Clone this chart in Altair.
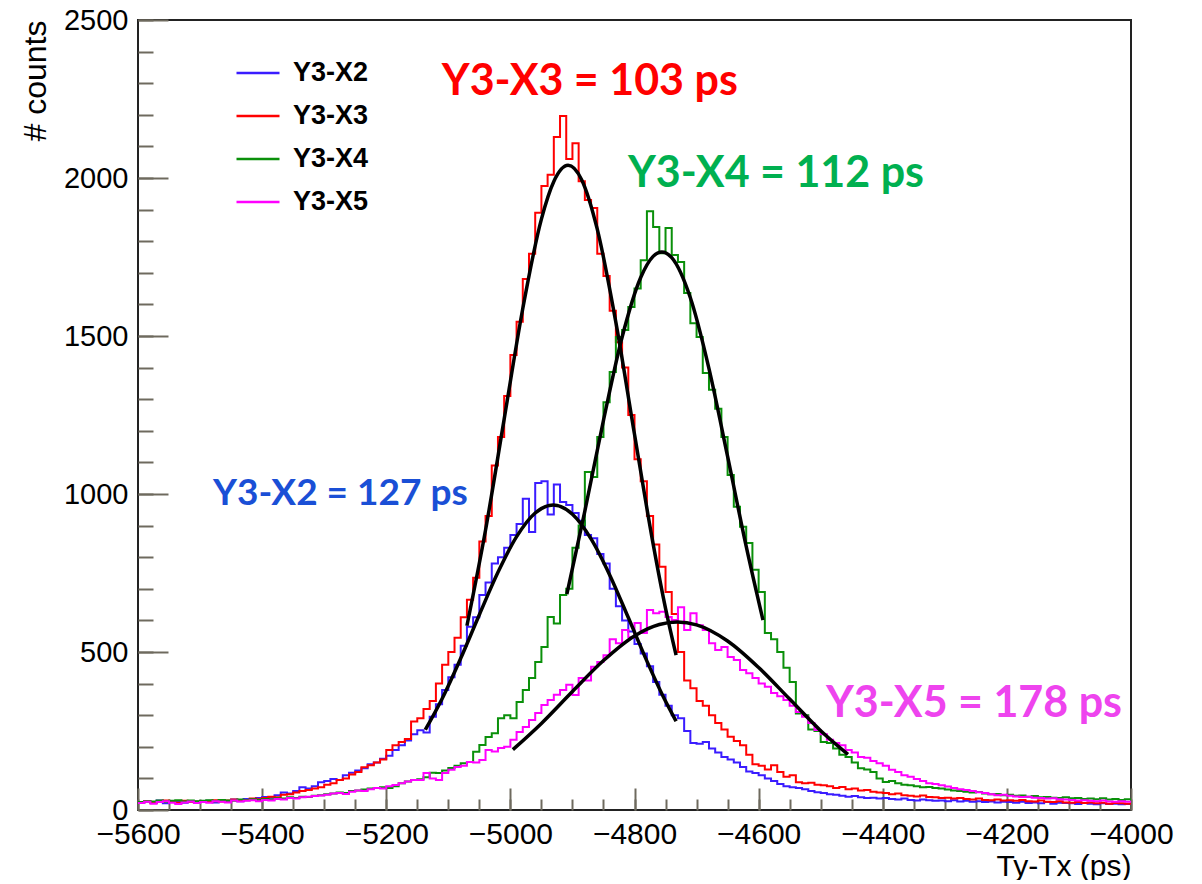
import altair as alt
import pandas as pd

# ---------------- data ----------------
SERIES = ["Y3-X2", "Y3-X3", "Y3-X4", "Y3-X5"]
COLORS = ["#3a1cff", "#ff0000", "#0a900a", "#ff00ff"]

BIN_START = -5600
BIN_END = -4000
BIN_WIDTH = 10

COUNTS_X2 = [
    22, 27, 24, 30, 21, 26, 28, 23, 27, 25,
    26, 29, 24, 31, 27, 33, 28, 35, 32, 38,
    41, 39, 47, 55, 52, 60, 72, 68, 75, 88,
    92, 98, 95, 110, 118, 125, 132, 145, 150, 162,
    172, 190, 205, 220, 240, 252, 245, 295, 335, 380,
    420, 460, 520, 580, 610, 680, 720, 780, 800, 830,
    870, 905, 985, 880, 1035, 1040, 935, 1030, 975, 965,
    940, 915, 870, 860, 810, 780, 700, 645, 600, 565,
    525, 495, 455, 405, 365, 330, 300, 290, 250, 212,
    210, 215, 195, 182, 168, 160, 150, 136, 122, 117,
    110, 100, 92, 82, 75, 72, 70, 66, 60, 56,
    54, 50, 48, 45, 42, 44, 40, 38, 39, 36,
    38, 35, 33, 36, 32, 30, 33, 31, 29, 30,
    28, 31, 27, 29, 26, 28, 25, 27, 24, 26,
    25, 23, 26, 22, 24, 21, 25, 20, 23, 22,
    21, 19, 22, 20, 18, 21, 19, 20, 18, 19,
]
COUNTS_X3 = [
    24, 28, 22, 26, 30, 25, 23, 29, 26, 27,
    28, 25, 31, 27, 30, 33, 29, 32, 36, 34,
    38, 42, 40, 48, 50, 55, 60, 63, 68, 72,
    80, 85, 95, 100, 112, 120, 135, 142, 150, 160,
    190, 205, 215, 225, 280, 290, 320, 345, 400, 460,
    500, 545, 610, 665, 735, 850, 930, 1090, 1180, 1310,
    1440, 1545, 1680, 1760, 1890, 1975, 2010, 2130, 2196, 2060,
    2110, 1990, 1930, 1905, 1760, 1690, 1580, 1480, 1400, 1250,
    1110, 1040, 930, 840, 770, 690, 620, 500, 410, 385,
    345, 330, 300, 275, 255, 232, 218, 205, 175, 145,
    140, 128, 142, 120, 105, 110, 88, 85, 86, 80,
    78, 75, 70, 73, 66, 68, 62, 63, 58, 55,
    54, 50, 52, 47, 45, 43, 46, 41, 40, 38,
    39, 36, 38, 35, 33, 36, 32, 31, 33, 30,
    31, 29, 32, 28, 27, 30, 26, 25, 28, 24,
    23, 25, 22, 24, 21, 23, 20, 22, 21, 20,
]
COUNTS_X4 = [
    25, 28, 27, 30, 26, 29, 31, 27, 30, 28,
    29, 31, 28, 32, 30, 29, 33, 31, 34, 32,
    35, 33, 37, 36, 40, 38, 42, 41, 45, 47,
    50, 52, 55, 54, 60, 62, 65, 68, 70, 72,
    70, 75, 85, 90, 95, 97, 104, 118, 117, 125,
    133, 140, 148, 152, 184, 206, 231, 243, 290, 300,
    290, 342, 380, 418, 468, 516, 611, 590, 680, 700,
    830, 900, 1070, 1054, 1180, 1290, 1386, 1497, 1519, 1592,
    1650, 1740, 1895, 1845, 1762, 1842, 1756, 1734, 1636, 1540,
    1497, 1383, 1330, 1270, 1180, 1060, 960, 896, 845, 760,
    690, 560, 540, 500, 450, 405, 305, 300, 255, 250,
    215, 212, 195, 175, 168, 150, 132, 128, 120, 100,
    89, 92, 85, 80, 78, 75, 72, 73, 70, 68,
    65, 62, 60, 58, 55, 57, 52, 50, 51, 47,
    48, 45, 46, 42, 44, 40, 41, 39, 38, 40,
    37, 38, 35, 36, 34, 37, 33, 35, 32, 34,
]
COUNTS_X5 = [
    22, 26, 20, 25, 28, 23, 19, 24, 27, 22,
    25, 23, 28, 26, 24, 30, 27, 29, 31, 28,
    32, 30, 35, 33, 38, 36, 40, 42, 44, 46,
    48, 52, 54, 51, 58, 62, 60, 66, 70, 68,
    75, 79, 85, 90, 95, 95, 117, 100, 95, 117,
    127, 136, 140, 152, 150, 158, 190, 185, 196, 200,
    222, 247, 263, 285, 307, 332, 348, 365, 380, 396,
    364, 418, 410, 453, 468, 490, 540, 528, 570, 547,
    592, 560, 633, 623, 627, 611, 601, 642, 570, 623,
    585, 570, 528, 506, 516, 484, 475, 443, 433, 418,
    400, 390, 370, 360, 348, 330, 310, 295, 275, 253,
    240, 222, 212, 205, 190, 182, 168, 165, 155, 148,
    140, 127, 120, 110, 105, 98, 92, 85, 82, 78,
    74, 70, 66, 63, 60, 56, 54, 50, 47, 48,
    45, 43, 41, 42, 39, 38, 36, 37, 34, 33,
    32, 30, 31, 29, 28, 30, 27, 26, 28, 26,
]

# Gaussian fit curves
FIT_X2_X = [-5137, -5110, -5080, -5050, -5020, -4990, -4960, -4931, -4900, -4870, -4840, -4810, -4780, -4755, -4733]
FIT_X2_Y = [254, 352, 480, 618, 752, 865, 940, 965, 936, 858, 744, 609, 471, 364, 281]
FIT_X3_X = [-5070, -5040, -5010, -4980, -4950, -4930, -4907, -4885, -4860, -4830, -4800, -4770, -4750, -4733]
FIT_X3_Y = [583, 886, 1237, 1587, 1870, 1989, 2040, 1994, 1838, 1543, 1189, 842, 638, 490]
FIT_X4_X = [-4909, -4880, -4850, -4820, -4790, -4770, -4756, -4740, -4710, -4680, -4650, -4620, -4593]
FIT_X4_Y = [683, 946, 1233, 1496, 1685, 1752, 1766, 1748, 1621, 1397, 1119, 834, 601]
FIT_X5_X = [-4996, -4950, -4900, -4850, -4800, -4760, -4731, -4700, -4650, -4600, -4550, -4500, -4456]
FIT_X5_Y = [191, 274, 375, 473, 551, 587, 595, 586, 535, 451, 351, 251, 176]

ANN_TEXT = ["Y3-X3 = 103 ps", "Y3-X4 = 112 ps", "Y3-X2 = 127 ps", "Y3-X5 = 178 ps"]
ANN_X = [-4872, -4572, -5274, -4253]
ANN_Y = [2263, 1972, 965, 294]
ANN_COLOR = ["#ff0000", "#00b050", "#1a4fd6", "#ee44ee"]
ANN_SIZE = [43, 43, 37, 43]

X_MAJOR = [-5600, -5400, -5200, -5000, -4800, -4600, -4400, -4200, -4000]
X_MINOR = [-5600 + 50 * k for k in range(33)]
Y_MAJOR = [0, 500, 1000, 1500, 2000, 2500]
Y_MINOR = [100 * k for k in range(26)]

# ---------------- tables ----------------
rows = []
for name, counts in zip(SERIES, [COUNTS_X2, COUNTS_X3, COUNTS_X4, COUNTS_X5]):
    for i, c in enumerate(counts):
        rows.append({"series": name, "x": BIN_START + i * BIN_WIDTH, "y": c})
    rows.append({"series": name, "x": BIN_END, "y": counts[-1]})
hist_df = pd.DataFrame(rows)

frows = []
for name, xs, ys in zip(SERIES, [FIT_X2_X, FIT_X3_X, FIT_X4_X, FIT_X5_X],
                        [FIT_X2_Y, FIT_X3_Y, FIT_X4_Y, FIT_X5_Y]):
    for xv, yv in zip(xs, ys):
        frows.append({"fit": name, "x": xv, "y": yv})
fit_df = pd.DataFrame(frows)

ann_df = pd.DataFrame({"text": ANN_TEXT, "x": ANN_X, "y": ANN_Y,
                       "color": ANN_COLOR, "fs": ANN_SIZE})

# ---------------- chart ----------------
W, H = 993, 790
TICK = "#6e6a5e"
FONT = "Liberation Sans"

xscale = alt.Scale(domain=[BIN_START, BIN_END], nice=False, zero=False)
yscale = alt.Scale(domain=[0, 2500], nice=False)

x_lab = alt.Axis(orient="bottom", values=X_MAJOR, format="d", labelFontSize=30, labelFont=FONT,
                 labelColor="black", labelPadding=9, labelFlush=False, labelOverlap=False,
                 ticks=False, domain=False, grid=False, title="Ty-Tx (ps)", titleAnchor="end",
                 titleFontSize=30, titleFont=FONT, titleFontWeight="normal", titleColor="black",
                 titlePadding=2)
y_lab = alt.Axis(orient="left", values=Y_MAJOR, format="d", labelFontSize=29, labelFont=FONT,
                 labelColor="black", labelPadding=10, labelFlush=False, labelOverlap=False,
                 ticks=False, domain=False, grid=False, title="# counts", titleFontSize=32,
                 titleFont=FONT, titleFontWeight="normal", titleColor="black",
                 titleAngle=270, titleAlign="right", titleBaseline="middle", titleX=-103, titleY=0)

x_major = alt.Axis(orient="top", offset=-H, values=X_MAJOR, tickSize=22, tickColor=TICK, tickWidth=2,
                   labels=False, domain=False, grid=False, title=None)
y_major = alt.Axis(orient="right", offset=-W, values=Y_MAJOR, tickSize=30, tickColor=TICK, tickWidth=2,
                   labels=False, domain=False, grid=False, title=None)
x_minor = alt.Axis(orient="top", offset=-H, values=X_MINOR, tickSize=11, tickColor=TICK, tickWidth=2,
                   labels=False, domain=False, grid=False, title=None)
y_minor = alt.Axis(orient="right", offset=-W, values=Y_MINOR, tickSize=15, tickColor=TICK, tickWidth=2,
                   labels=False, domain=False, grid=False, title=None)

hist = alt.Chart(hist_df).mark_line(interpolate="step-after", strokeWidth=2).encode(
    x=alt.X("x:Q", scale=xscale, axis=x_lab),
    y=alt.Y("y:Q", scale=yscale, axis=y_lab),
    color=alt.Color("series:N", scale=alt.Scale(domain=SERIES, range=COLORS),
                    legend=alt.Legend(orient="none", legendX=97, legendY=30, title=None,
                                      symbolType="stroke", symbolSize=1849, symbolStrokeWidth=2.5,
                                      labelFontSize=27, labelFont=FONT, labelFontWeight="bold",
                                      labelColor="black", labelOffset=12, rowPadding=7, padding=0)),
)

fits = alt.Chart(fit_df).mark_line(color="black", strokeWidth=3.5, interpolate="monotone").encode(
    x=alt.X("x:Q", scale=xscale, axis=x_major),
    y=alt.Y("y:Q", scale=yscale, axis=y_major),
    detail="fit:N",
)

texts = alt.Chart(ann_df).mark_text(font="Lato", fontWeight="bold",
                                    align="center", baseline="alphabetic").encode(
    x=alt.X("x:Q", scale=xscale, axis=x_minor),
    y=alt.Y("y:Q", scale=yscale, axis=y_minor),
    text="text:N",
    color=alt.Color("color:N", scale=None),
    size=alt.Size("fs:Q", scale=None),
)

chart = alt.layer(hist, fits, texts).resolve_axis(x="independent", y="independent").properties(
    width=W, height=H,
    padding={"left": 130, "top": 12, "right": 50, "bottom": 70},
    autosize=alt.AutoSizeParams(type="none"),
    background="white",
).configure_view(stroke="#222222", strokeWidth=2)

chart.save("out.html", embed_options={"renderer": "svg", "actions": False})
